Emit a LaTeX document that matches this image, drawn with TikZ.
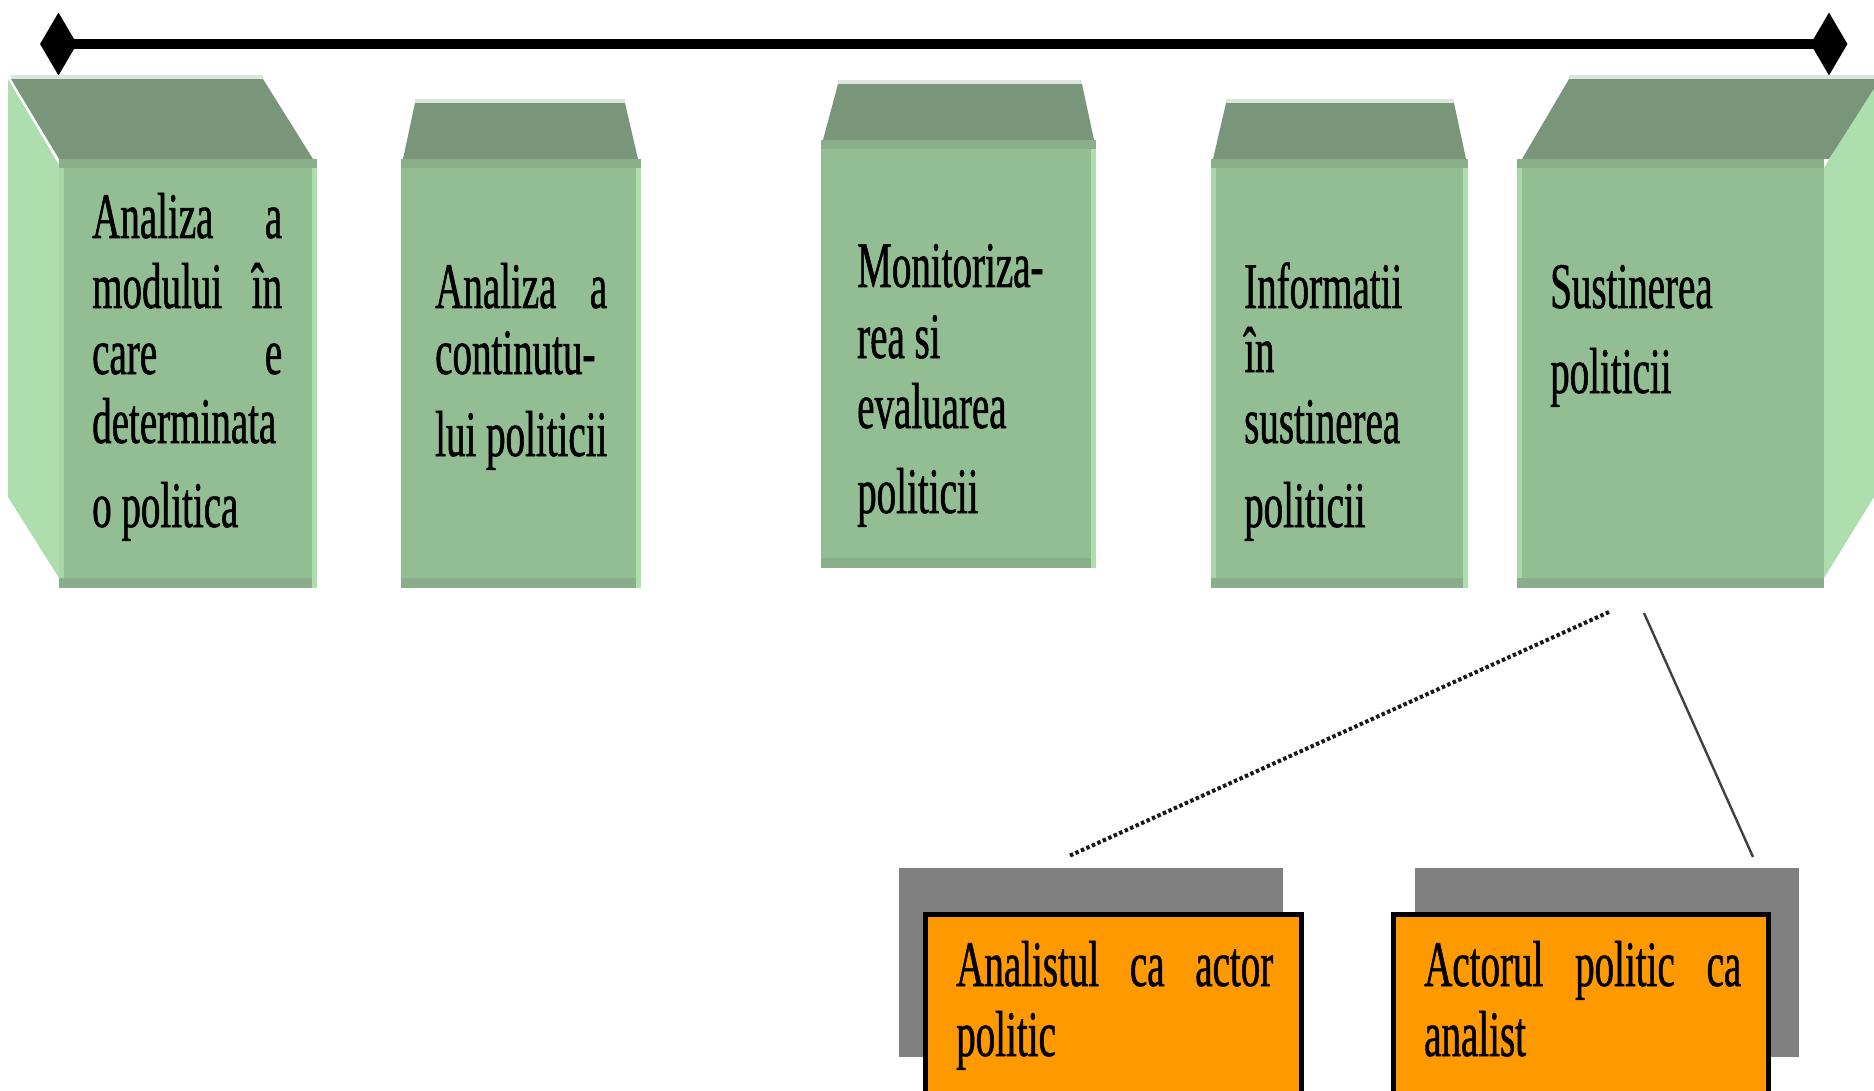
\documentclass[tikz,border=0pt]{standalone}
\usepackage{fontspec}
\newfontfamily\condfont[FakeStretch=0.6,FakeBold=0.8]{Liberation Serif}
\usetikzlibrary{shapes.geometric}
\definecolor{frontc}{HTML}{93BD93}
\definecolor{topc}{HTML}{7A967A}
\definecolor{sidec}{HTML}{AEDDAE}
\definecolor{stripc}{HTML}{8AAE8A}
\definecolor{edgec}{HTML}{DCE4DC}
\definecolor{shadowc}{HTML}{808080}
\definecolor{orangec}{HTML}{FF9900}
\newcommand\greenfront[4]{%
  \fill[frontc] (#1,#3) rectangle (#2,#4);
  \fill[stripc] (#1,#3) rectangle (#2,#3+9);
  \fill[stripc] (#1,#4-10) rectangle (#2,#4);
}
\newcommand\greentop[6]{%
  \fill[topc] (#1,#5) -- (#2,#5) -- (#4,#6) -- (#3,#6) -- cycle;
  \draw[edgec, line width=4] (#1,#5-2) -- (#2,#5-2);
}
\begin{document}
\begin{tikzpicture}[x=1pt,y=-1pt,
  txt/.style={anchor=base west, inner sep=0pt, font=\condfont\fontsize{65}{70}\selectfont},
  tip/.style={diamond, fill=black, inner sep=0pt, minimum width=37, minimum height=63},
  shadowbox/.style={fill=shadowc},
  orangebox/.style={fill=orangec, draw=black, line width=5},
  dotline/.style={line width=4, dash pattern=on 3.5pt off 2.5pt, black!90},
  thinline/.style={line width=2.4, black!75}]
\useasboundingbox (0,0) rectangle (1874,1091);
\clip (0,0) rectangle (1874,1091);

% top bar with diamonds
\node[tip] (dl) at (58.5,44) {};
\node[tip] (dr) at (1829,44) {};
\draw[line width=9.5] (dl.center) -- (dr.center);

% box 1
\fill[sidec] (8,79) -- (59,165) -- (59,578) -- (8,497) -- cycle;
\greenfront{59}{317}{159}{588}
\fill[sidec] (312,168) rectangle (317,588);
\fill[sidec!80!frontc] (59,168) rectangle (64,578);
\greentop{11}{263}{59}{313}{79}{159}

% box 2
\greenfront{401}{641}{159}{588}
\fill[sidec] (636,168) rectangle (641,588);
\greentop{415}{625}{403}{638}{103}{159}

% box 3
\greenfront{821}{1096}{140}{568}
\fill[sidec] (1091,149) rectangle (1096,568);
\greentop{838}{1082}{823}{1094}{84}{140}

% box 4
\greenfront{1211}{1468}{159}{588}
\fill[sidec] (1463,168) rectangle (1468,588);
\fill[sidec!80!frontc] (1211,168) rectangle (1216,578);
\greentop{1226}{1454}{1213}{1466}{103}{159}

% box 5
\fill[sidec] (1874,84) -- (1824,168) -- (1824,578) -- (1874,497) -- cycle;
\greenfront{1517}{1824}{159}{588}
\fill[sidec!80!frontc] (1517,168) rectangle (1522,578);
\greentop{1569}{1880}{1522}{1829}{79}{159}

% texts
\node[txt] (t1a) at (92,238) {\hbox to 190pt{Analiza\hfill a}};
\node[txt] (t1b) at (92,308) {\hbox to 190pt{modului\hfill în}};
\node[txt] (t1c) at (92,374) {\hbox to 190pt{care\hfill e}};
\node[txt] (t1d) at (92,443) {determinata};
\node[txt] (t1e) at (92,527) {o politica};

\node[txt] (t2a) at (435,308) {\hbox to 172pt{Analiza\hfill a}};
\node[txt] (t2b) at (435,374) {continutu-};
\node[txt] (t2c) at (435,456) {lui politicii};

\node[txt] (t3a) at (857,287) {Monitoriza-};
\node[txt] (t3b) at (857,358) {rea si};
\node[txt] (t3c) at (857,428) {evaluarea};
\node[txt] (t3d) at (857,513) {politicii};

\node[txt] (t4a) at (1244,308) {Informatii};
\node[txt] (t4b) at (1244,372) {în};
\node[txt] (t4c) at (1244,443) {sustinerea};
\node[txt] (t4d) at (1244,527) {politicii};

\node[txt] (t5a) at (1550,308) {Sustinerea};
\node[txt] (t5b) at (1550,393) {politicii};

% connectors
\coordinate (c1s) at (1609,612);
\coordinate (c1e) at (1069,856);
\coordinate (c2s) at (1644,613);
\coordinate (c2e) at (1753,857);
\draw[dotline] (c1s) -- (c1e);
\draw[thinline] (c2s) -- (c2e);

% orange boxes
\fill[shadowc] (899,868) rectangle (1283,1057);
\draw[orangebox] (925.5,914.5) rectangle (1301.5,1110);
\node[txt] (o1a) at (956,986) {\hbox to 317pt{Analistul\hfill ca\hfill actor}};
\node[txt] (o1b) at (956,1056) {politic};

\fill[shadowc] (1415,868) rectangle (1799,1057);
\draw[orangebox] (1393.5,914.5) rectangle (1768.5,1110);
\node[txt] (o2a) at (1424,986) {\hbox to 317pt{Actorul\hfill politic\hfill ca}};
\node[txt] (o2b) at (1424,1056) {analist};
\end{tikzpicture}
\end{document}
